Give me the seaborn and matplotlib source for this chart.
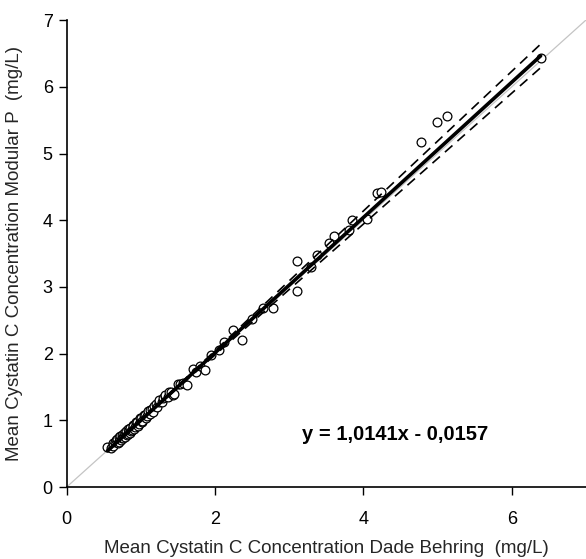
import matplotlib
matplotlib.use("Agg")
import matplotlib.pyplot as plt
import seaborn as sns
import numpy as np
import pandas as pd

# Data (mg/L)
dade_behring = [0.55, 0.60, 0.62, 0.63, 0.65, 0.66, 0.68, 0.69, 0.70, 0.71,
                0.72, 0.73, 0.74, 0.75, 0.76, 0.77, 0.78, 0.79, 0.80, 0.81,
                0.82, 0.83, 0.84, 0.85, 0.86, 0.87, 0.88, 0.89, 0.90, 0.91,
                0.92, 0.94, 0.95, 0.96, 0.97, 0.99, 1.00, 1.01, 1.02, 1.04,
                1.05, 1.07, 1.08, 1.10, 1.12, 1.13, 1.15, 1.17, 1.18, 1.20,
                1.22, 1.24, 1.25, 1.28, 1.30, 1.32, 1.33, 1.36, 1.38, 1.40,
                1.43, 1.45, 1.50, 1.53, 1.57, 1.62, 1.70, 1.75, 1.80, 1.87,
                1.95, 2.05, 2.12, 2.24, 2.36, 2.50, 2.65, 2.78, 3.10, 3.10,
                3.30, 3.37, 3.54, 3.61, 3.80, 3.84, 4.05, 4.18, 4.24, 4.78,
                4.99, 5.13, 6.39]
modular_p = [0.60, 0.58, 0.66, 0.62, 0.67, 0.70, 0.72, 0.66, 0.68, 0.75,
             0.76, 0.70, 0.78, 0.73, 0.74, 0.81, 0.80, 0.75, 0.84, 0.78,
             0.79, 0.87, 0.86, 0.81, 0.88, 0.84, 0.85, 0.93, 0.92, 0.87,
             0.90, 0.98, 0.97, 0.92, 0.94, 1.03, 1.03, 0.97, 0.99, 1.08,
             1.08, 1.03, 1.06, 1.14, 1.10, 1.16, 1.17, 1.13, 1.22, 1.25,
             1.20, 1.28, 1.30, 1.27, 1.33, 1.36, 1.38, 1.35, 1.42, 1.42,
             1.38, 1.40, 1.55, 1.55, 1.56, 1.53, 1.77, 1.72, 1.82, 1.75,
             1.98, 2.05, 2.17, 2.35, 2.21, 2.52, 2.68, 2.69, 3.39, 2.94,
             3.30, 3.48, 3.66, 3.77, 3.85, 4.00, 4.02, 4.41, 4.42, 5.17,
             5.47, 5.57, 6.43]

# Regression from the equation printed on the chart
slope = 1.0141
intercept = -0.0157
equation = "y = 1,0141x - 0,0157"
# approximate 95% limits of slope and intercept
slope_ci = [0.981, 1.047]
intercept_ci = [-0.050, 0.018]

df = pd.DataFrame({"x": dade_behring, "y": modular_p})

xs = np.linspace(min(dade_behring), max(dade_behring), 200)
fit = slope * xs + intercept
upper = slope_ci[1] * xs + intercept_ci[0]
lower = slope_ci[0] * xs + intercept_ci[1]

sns.set_theme(style="ticks")
plt.rcParams['font.family'] = ['Liberation Sans', 'DejaVu Sans']

fig = plt.figure(figsize=(5.86, 5.59), dpi=100)
ax = fig.add_axes([0.1138, 0.1288, 0.886, 0.8352])

# line of identity
ax.plot([0, 7], [0, 7], color="#c4c4c4", lw=0.9, zorder=1)

sns.scatterplot(data=df, x="x", y="y", ax=ax, marker="o", s=40,
                facecolor="white", edgecolor="black", linewidth=0.9, zorder=3)

ax.plot(xs, fit, color="black", lw=2.6, zorder=4)
ax.plot(xs, upper, color="black", lw=1.2, ls=(0, (6, 4)), zorder=4)
ax.plot(xs, lower, color="black", lw=1.2, ls=(0, (6, 4)), zorder=4)

ax.text(4.43, 0.78, equation, ha="center", va="center",
        fontsize=14.5, fontweight="bold", color="black")

ax.set_xlim(0, 7)
ax.set_ylim(0, 7)
ax.set_xticks([0, 2, 4, 6])
ax.set_yticks(range(0, 8))
ax.tick_params(direction="out", length=6, width=1, colors="black",
               labelsize=13)
ax.tick_params(axis="x", pad=11)
ax.tick_params(axis="y", pad=4)

ax.set_xlabel("Mean Cystatin C Concentration Dade Behring  (mg/L)",
              fontsize=13.5, labelpad=9)
ax.set_ylabel("Mean Cystatin C Concentration Modular P  (mg/L)",
              fontsize=13.5, labelpad=14)

sns.despine(ax=ax)
for side in ["left", "bottom"]:
    ax.spines[side].set_color("black")
    ax.spines[side].set_linewidth(1.2)

fig.savefig("out.png", dpi=100)
